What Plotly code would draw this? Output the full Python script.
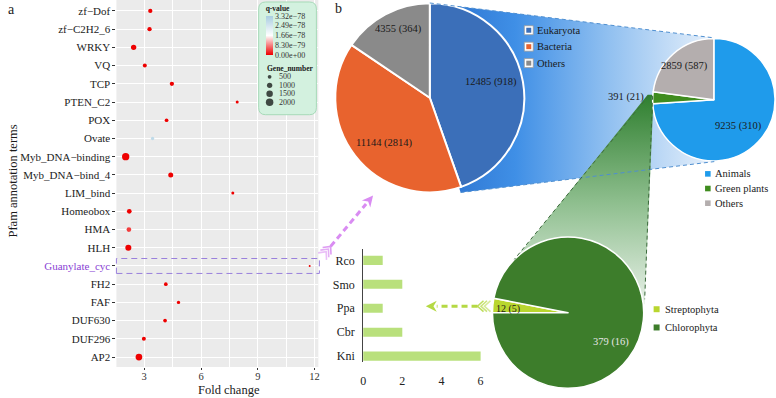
import numpy as np
import plotly.graph_objects as go

W, H = 776, 398
FONT = "Liberation Serif, Times New Roman, serif"

# ---------------- Panel a data (top to bottom) ----------------
terms = ["zf−Dof", "zf−C2H2_6", "WRKY", "VQ", "TCP", "PTEN_C2", "POX", "Ovate",
         "Myb_DNA−binding", "Myb_DNA−bind_4", "LIM_bind", "Homeobox", "HMA", "HLH",
         "Guanylate_cyc", "FH2", "FAF", "DUF630", "DUF296", "AP2"]
fold_change = [3.32, 3.28, 2.44, 3.03, 4.46, 7.91, 4.18, 3.44, 2.02, 4.40, 7.68,
               2.21, 2.19, 2.16, 11.74, 4.14, 4.81, 4.10, 2.98, 2.72]
gene_number = [660, 660, 1000, 570, 660, 320, 480, 400, 1900, 890, 320,
               780, 780, 1300, 140, 480, 400, 480, 570, 1600]
q_value = [0, 0, 0, 0, 0, 0, 0, 2.9e-78, 0, 0, 0, 0, 4.0e-79, 0, 0, 0, 0, 0, 0, 0]
q_ticks = [0, 8.30e-79, 1.66e-78, 2.49e-78, 3.32e-78]
q_ticktext = ["0.00e+00", "8.30e−79", "1.66e−78", "2.49e−78", "3.32e−78"]
size_legend = [500, 1000, 1500, 2000]
fc_ticks = [3, 6, 9, 12]
highlight_term = "Guanylate_cyc"

# ---------------- Panel b data ----------------
kingdom = ["Eukaryota", "Bacteria", "Others"]
kingdom_genes = [12485, 11144, 4355]
kingdom_species = [918, 2814, 364]
euk_groups = ["Animals", "Green plants", "Others"]
euk_genes = [9235, 391, 2859]
euk_species = [310, 21, 587]
plant_groups = ["Streptophyta", "Chlorophyta"]
plant_genes = [12, 379]
plant_species = [5, 16]
bar_species = ["Kni", "Cbr", "Ppa", "Smo", "Rco"]
bar_values = [6, 2, 1, 2, 1]
bar_ticks = [0, 2, 4, 6]

kingdom_colors = ["#3b6fb9", "#e8632e", "#8a8a8a"]
euk_colors = ["#1f9beb", "#3f8c1e", "#b4aeae"]
plant_colors = ["#b9d62f", "#3d7d2b"]

SIZEREF = 1000 / 3.75 ** 2
Q_UNIT = 1e-79  # colour scale works in units of 1e-79 to avoid float underflow issues


def fx(px):
    return px / W


def fy(py):
    return 1 - py / H


fig = go.Figure()

# ---------------- connector polygons (pixel overlay axis x3/y3) ----------------
fig.add_trace(go.Scatter(
    x=[429, 715, 715, 460, 429, 429], y=[3, 38, 162, 193, 98, 3],
    fill="toself", mode="lines", line=dict(width=0),
    fillgradient=dict(type="horizontal",
                      colorscale=[[0, "#2a6fcc"], [0.3, "#3f8fe6"], [0.62, "#8fbff0"], [1, "#e8f1fb"]]),
    xaxis="x3", yaxis="y3", hoverinfo="skip", showlegend=False))
fig.add_trace(go.Scatter(
    x=[648, 654, 645, 568, 513, 648], y=[95, 95, 305, 313, 262, 95],
    fill="toself", mode="lines", line=dict(width=0),
    fillgradient=dict(type="vertical",
                      colorscale=[[0, "#eef4ee"], [0.5, "#8fbf8f"], [1, "#2f7f2f"]]),
    xaxis="x3", yaxis="y3", hoverinfo="skip", showlegend=False))

# size legend dots
fig.add_trace(go.Scatter(
    x=[268] * len(size_legend), y=[77, 85.5, 94, 102.5], mode="markers",
    marker=dict(size=size_legend, sizemode="area", sizeref=SIZEREF, color="black", line=dict(width=0)),
    xaxis="x3", yaxis="y3", hoverinfo="skip", showlegend=False))

# ---------------- panel a scatter ----------------
q_scaled = [q / Q_UNIT for q in q_value]
fig.add_trace(go.Scatter(
    x=fold_change, y=terms, mode="markers",
    marker=dict(size=gene_number, sizemode="area", sizeref=SIZEREF, sizemin=1,
                color=q_scaled, cmin=0, cmax=q_ticks[-1] / Q_UNIT, opacity=1,
                colorscale=[[0, "#ee0000"], [0.5, "#ffffff"], [1, "#a9cde0"]],
                line=dict(width=0), showscale=True,
                colorbar=dict(x=fx(264), xanchor="left", y=fy(28.5), yanchor="middle",
                              len=53, lenmode="pixels", thickness=7, xpad=0, ypad=0,
                              outlinewidth=0, tickvals=[t / Q_UNIT for t in q_ticks], ticktext=q_ticktext,
                              ticks="", tickfont=dict(family=FONT, size=8, color="#333"),
                              title=dict(text="<b>q-value</b>", side="top",
                                         font=dict(family=FONT, size=7.5, color="#222")))),
    xaxis="x", yaxis="y", hoverinfo="skip", showlegend=False))

# ---------------- bar chart ----------------
fig.add_trace(go.Bar(
    x=bar_values, y=bar_species, orientation="h", width=0.38,
    marker=dict(color="#b9e07c", line=dict(width=0)),
    xaxis="x2", yaxis="y2", hoverinfo="skip", showlegend=False))

# ---------------- pies ----------------
pie_common = dict(sort=False, direction="clockwise", textinfo="none",
                  hoverinfo="skip", showlegend=False)
fig.add_trace(go.Pie(labels=kingdom, values=kingdom_genes, rotation=0,
                     marker=dict(colors=kingdom_colors, line=dict(color="white", width=2)),
                     domain=dict(x=[fx(334), fx(524)], y=[fy(193), fy(3)]), **pie_common))
fig.add_trace(go.Pie(labels=euk_groups, values=euk_genes, rotation=0,
                     marker=dict(colors=euk_colors, line=dict(color="white", width=1.5)),
                     domain=dict(x=[fx(653), fx(776)], y=[fy(162), fy(38)]), **pie_common))
fig.add_trace(go.Pie(labels=plant_groups, values=plant_genes, rotation=270,
                     marker=dict(colors=plant_colors, line=dict(color="white", width=1.5)),
                     domain=dict(x=[fx(492), fx(644)], y=[fy(389.5), fy(237.5)]), **pie_common))

# ---------------- shapes ----------------
shapes = []
# ggplot grey panel
shapes.append(dict(type="rect", xref="x domain", yref="y domain", x0=0, x1=1, y0=0, y1=1,
                   fillcolor="#ebebeb", line=dict(width=0), layer="below"))
# highlight box around Guanylate_cyc
hi = terms[::-1].index(highlight_term)
shapes.append(dict(type="rect", xref="x domain", yref="y", x0=0, x1=1.005, y0=hi - 0.41, y1=hi + 0.41,
                   line=dict(color="#9a80dc", width=1, dash="6px,4px"), fillcolor="rgba(0,0,0,0)",
                   layer="above"))


def rounded_rect(x0, y0, x1, y1, r):
    return (f"M{x0+r},{y0} L{x1-r},{y0} Q{x1},{y0} {x1},{y0+r} L{x1},{y1-r} Q{x1},{y1} {x1-r},{y1} "
            f"L{x0+r},{y1} Q{x0},{y1} {x0},{y1-r} L{x0},{y0+r} Q{x0},{y0} {x0+r},{y0} Z")


shapes.append(dict(type="path", xref="x3", yref="y3", path=rounded_rect(257, 2, 315, 115, 7),
                   fillcolor="#d3f1df", line=dict(color="#a6dab8", width=1), layer="below"))

# dashed connector edges
for (x0, y0, x1, y1) in [(429, 3, 715, 38), (460, 193, 715, 162)]:
    shapes.append(dict(type="line", xref="x3", yref="y3", x0=x0, y0=y0, x1=x1, y1=y1,
                       line=dict(color="#4f8fd0", width=1, dash="4px,3px"), layer="above"))
for (x0, y0, x1, y1) in [(649, 96, 514, 260), (653, 96, 645, 300)]:
    shapes.append(dict(type="line", xref="x3", yref="y3", x0=x0, y0=y0, x1=x1, y1=y1,
                       line=dict(color="#3c6a3c", width=1, dash="4px,3px"), layer="above"))


def arrow(tail, tip, color, head_len=11, head_w=5.5, n_chev=3):
    t = np.array(tail, float)
    p = np.array(tip, float)
    u = (p - t) / np.linalg.norm(p - t)
    n = np.array([-u[1], u[0]])
    out = []
    a = t + 13 * u
    b = p - head_len * u
    out.append(dict(type="line", xref="x3", yref="y3", x0=a[0], y0=a[1], x1=b[0], y1=b[1],
                    line=dict(color=color, width=3, dash="6px,4px"), layer="above"))
    base = p - head_len * u
    c1 = base + head_w * n
    c2 = base - head_w * n
    notch = p - 0.7 * head_len * u
    out.append(dict(type="path", xref="x3", yref="y3",
                    path=f"M{p[0]},{p[1]} L{c1[0]},{c1[1]} L{notch[0]},{notch[1]} L{c2[0]},{c2[1]} Z",
                    fillcolor=color, line=dict(width=0), layer="above"))
    for k in range(n_chev):
        v = t + (3.5 * k + 6) * u
        e1 = v - 6 * u + 5.5 * n
        e2 = v - 6 * u - 5.5 * n
        out.append(dict(type="path", xref="x3", yref="y3",
                        path=f"M{e1[0]},{e1[1]} L{v[0]},{v[1]} L{e2[0]},{e2[1]}",
                        line=dict(color=color, width=1.6), opacity=0.55 + 0.15 * k, layer="above"))
    return out


shapes += arrow((321, 257), (372, 196), "#d98cf2")
shapes += arrow((490, 307), (425, 307), "#b5d944")


def legend_square(x, y, s, color, framed):
    res = []
    if framed:
        res.append(dict(type="rect", xref="x3", yref="y3", x0=x - 0.5, x1=x + s + 0.5,
                        y0=y - s / 2 - 0.5, y1=y + s / 2 + 0.5, fillcolor="white",
                        line=dict(color="#9a9a9a", width=0.8), layer="above"))
        res.append(dict(type="rect", xref="x3", yref="y3", x0=x + 1.5, x1=x + s - 1.5,
                        y0=y - s / 2 + 1.5, y1=y + s / 2 - 1.5, fillcolor=color,
                        line=dict(width=0), layer="above"))
    else:
        res.append(dict(type="rect", xref="x3", yref="y3", x0=x, x1=x + s,
                        y0=y - s / 2, y1=y + s / 2, fillcolor=color,
                        line=dict(width=0), layer="above"))
    return res


annotations = []


def text(x, y, s, size=10.5, color="#1a1a1a", xanchor="center", **kw):
    annotations.append(dict(x=x, y=y, xref="x3", yref="y3", text=s, showarrow=False,
                            xanchor=xanchor, yanchor="middle",
                            font=dict(family=FONT, size=size, color=color), **kw))


# legends of panel b
for i, (lab, col) in enumerate(zip(kingdom, kingdom_colors)):
    yy = 30.3 + i * 16.5
    shapes += legend_square(524.5, yy, 8, col, True)
    text(535, yy, lab, size=10.5, xanchor="left")
for i, (lab, col) in enumerate(zip(euk_groups, euk_colors)):
    yy = 174.3 + i * 14.7
    shapes += legend_square(705.7, yy, 5.6, col, False)
    text(714, yy, lab, size=10.5, xanchor="left")
for i, (lab, col) in enumerate(zip(plant_groups, plant_colors)):
    yy = 310 + i * 18.3
    shapes += legend_square(654, yy, 6, col, False)
    text(663.5, yy, lab, size=10.5, xanchor="left")

# pie labels
lab_k = [f"{g} ({s})" for g, s in zip(kingdom_genes, kingdom_species)]
lab_e = [f"{g} ({s})" for g, s in zip(euk_genes, euk_species)]
lab_p = [f"{g} ({s})" for g, s in zip(plant_genes, plant_species)]
text(491, 82, lab_k[0])
text(383, 143.5, lab_k[1])
text(397.5, 29.5, lab_k[2])
text(739, 126, lab_e[0])
text(626, 97, lab_e[1])
text(685.5, 66, lab_e[2])
text(508, 309.5, lab_p[0], size=10)
text(611.5, 342.5, lab_p[1], color="#e6e6e6")

# size legend text
text(263, 69, "<b>Gene_number</b>", size=7.5, xanchor="left")
for v, yy in zip(size_legend, [77, 85.5, 94, 102.5]):
    text(275, yy, str(v), size=8, xanchor="left", color="#333")

# panel labels & axis titles
text(3, 10, "a", size=14, xanchor="left")
text(332, 9, "b", size=14, xanchor="left")
text(227.5, 391, "Fold change", size=12.5)
text(10, 181, "Pfam annotation terms", size=12.5, textangle=-90)

ticktext = [f"<span style='color:#8a3fd4'>{t}</span>" if t == highlight_term else t for t in terms]

fig.update_layout(
    width=W, height=H, margin=dict(l=0, r=0, t=0, b=0),
    paper_bgcolor="white", plot_bgcolor="rgba(0,0,0,0)",
    font=dict(family=FONT, color="#222"),
    shapes=shapes, annotations=annotations,
    xaxis=dict(domain=[fx(114), fx(317)], range=[1.53, 12.2], anchor="y",
               tickmode="array", tickvals=fc_ticks, ticks="outside", ticklen=2, tickcolor="#333",
               ticklabelstandoff=-3,
               showgrid=True, gridcolor="white", gridwidth=1, zeroline=False, showline=False,
               minor=dict(tickvals=[4.5, 7.5, 10.5], showgrid=True, gridcolor="white", gridwidth=0.5, ticks=""),
               tickfont=dict(family=FONT, size=10.5, color="#333")),
    yaxis=dict(domain=[fy(368), 1], type="category", categoryorder="array", categoryarray=terms[::-1],
               range=[-0.55, 19.6], anchor="x", tickmode="array", tickvals=terms, ticktext=ticktext,
               ticks="outside", ticklen=3, tickcolor="#333", showgrid=True, gridcolor="white", gridwidth=1,
               zeroline=False, tickfont=dict(family=FONT, size=11, color="#222")),
    xaxis2=dict(domain=[fx(362), fx(486)], range=[0, 6.3], anchor="y2", tickmode="array", tickvals=bar_ticks,
                ticks="outside", ticklen=8, tickcolor="rgba(0,0,0,0)", showgrid=False, zeroline=False,
                showline=False, tickfont=dict(family=FONT, size=12, color="#222")),
    yaxis2=dict(domain=[fy(363), fy(250)], type="category", categoryorder="array", categoryarray=bar_species,
                range=[-0.25, 4.46], anchor="x2", showline=True, linecolor="#444", linewidth=1,
                ticks="outside", ticklen=5, tickcolor="rgba(0,0,0,0)", showgrid=False, zeroline=False,
                tickfont=dict(family=FONT, size=12, color="#222")),
    xaxis3=dict(domain=[0, 1], range=[0, W], anchor="y3", visible=False, fixedrange=True),
    yaxis3=dict(domain=[0, 1], range=[H, 0], anchor="x3", visible=False, fixedrange=True),
)

fig.write_html("out.html", config={"displayModeBar": False},
               post_script="document.body.style.margin='0';")
